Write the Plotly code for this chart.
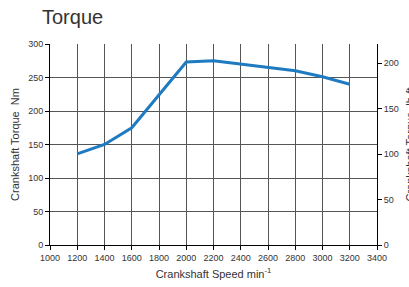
import plotly.graph_objects as go

speed = [1200, 1400, 1600, 1800, 2000, 2200, 2400, 2600, 2800, 3000, 3200]
torque_nm = [136, 150, 175, 224, 273, 275, 270, 265, 260, 251, 240]
x_ticks = list(range(1000, 3401, 200))
y_ticks = [0, 50, 100, 150, 200, 250, 300]
y2_ticks = [0, 50, 100, 150, 200]

NM_PER_LBFT = 1.35582

FONT = "Liberation Sans, Arial, sans-serif"
fig = go.Figure()
fig.add_trace(go.Scatter(x=speed, y=torque_nm, mode="lines",
                         line=dict(color="#1f7bc1", width=3), showlegend=False))
fig.add_trace(go.Scatter(x=speed, y=[v / NM_PER_LBFT for v in torque_nm], yaxis="y2",
                         mode="lines", line=dict(width=0), opacity=0,
                         showlegend=False, hoverinfo="skip"))

fig.update_layout(
    width=409, height=287,
    margin=dict(l=50, r=32, t=44, b=42),
    paper_bgcolor="white", plot_bgcolor="white",
    font=dict(family=FONT, color="#333333", size=9),
    title=dict(text="Torque", x=0, xanchor="left", xref="paper", y=0.965, yanchor="top",
               font=dict(size=20, color="#333333", family=FONT), pad=dict(l=-8)),
    xaxis=dict(range=[1000, 3400], tickvals=x_ticks, showgrid=True, gridcolor="#555555",
               gridwidth=1, showline=True, linecolor="black", linewidth=1, mirror=False,
               ticks="outside", ticklen=4, tickcolor="black", zeroline=False,
               automargin=False,
               tickfont=dict(size=9, color="#333333"),
               title=dict(text="Crankshaft Speed min<sup>-1</sup>", standoff=8,
                          font=dict(size=11, color="#333333"))),
    yaxis=dict(range=[0, 300], tickvals=y_ticks, showgrid=True, gridcolor="#555555",
               gridwidth=1, showline=True, linecolor="black", linewidth=1,
               ticks="outside", ticklen=4, tickcolor="black", zeroline=False,
               automargin=False,
               tickfont=dict(size=9, color="#333333"),
               title=dict(text="Crankshaft Torque  Nm", standoff=6,
                          font=dict(size=11, color="#333333"))),
    yaxis2=dict(range=[0, 300 / NM_PER_LBFT], tickvals=y2_ticks, overlaying="y", side="right",
                showgrid=False, showline=True, linecolor="black", linewidth=1,
                ticks="outside", ticklen=4, tickcolor="black", zeroline=False,
                automargin=False,
                tickfont=dict(size=9, color="#333333")),
)
fig.add_annotation(text="Crankshaft Torque  lb-ft", xref="paper", yref="paper",
                   x=1, y=0.5, xshift=32, textangle=-90, showarrow=False,
                   xanchor="center", yanchor="middle",
                   font=dict(size=11, color="#333333", family=FONT))
fig.write_html("out.html", config={"displayModeBar": False},
               post_script="document.body.style.margin='0';document.body.style.overflow='hidden';")
